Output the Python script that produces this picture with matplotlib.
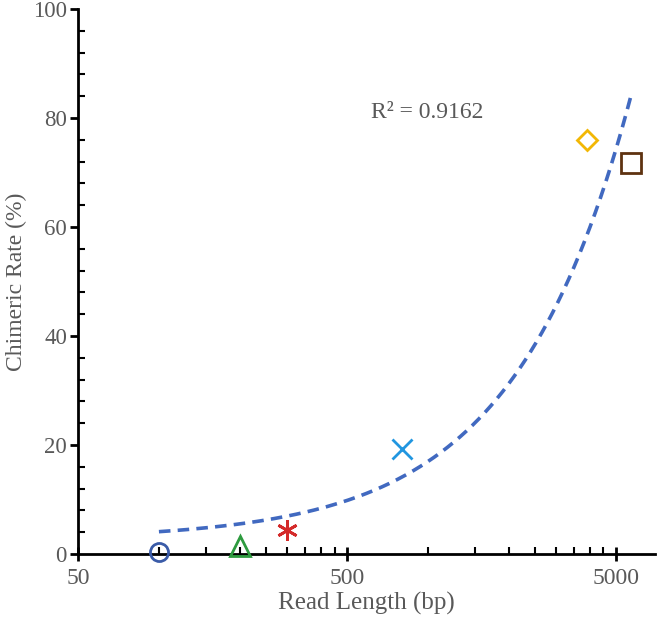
import numpy as np
import matplotlib
matplotlib.use('Agg')
import matplotlib.pyplot as plt
import matplotlib.ticker as mt

# read length (bp) and chimeric rate (%) per platform
read_len = [100, 200, 300, 800, 3900, 5700]
chim_rate = [0.4, 1.4, 4.4, 19.3, 76.0, 71.68]
markers = ['o', '^', (6, 2, 0), 'x', 'D', 's']
colors = ['#3A5BA8', '#2E9B3F', '#D42A2A', '#2196E0', '#F2B705', '#5E3210']
sizes = [13, 14, 15, 15, 10, 14]

xticks = [50, 500, 5000]
yticks = [0, 20, 40, 60, 80, 100]

plt.rc('font', family='Liberation Serif', size=16)
fig = plt.figure(figsize=(6.65, 6.22), dpi=100)
ax = fig.add_axes([78 / 665, 68 / 622, 577 / 665, 545 / 622])

# linear trendline (Excel style), drawn on the log axis
x = np.array(read_len, float)
y = np.array(chim_rate, float)
b, a = np.polyfit(x, y, 1)
yhat = a + b * x
r2 = 1 - np.sum((y - yhat) ** 2) / np.sum((y - y.mean()) ** 2)
xs = np.linspace(x.min(), x.max(), 400)
ax.plot(xs, a + b * xs, color='#4169C0', lw=2.6, dashes=(3.2, 2), zorder=2)

for xi, yi, m, c, s in zip(read_len, chim_rate, markers, colors, sizes):
    ax.plot(xi, yi, marker=m, ms=s, mfc='none', mec=c, mew=2, ls='none', zorder=3, clip_on=False)

ax.text(0.605, 0.81, 'R\u00b2 = %.4f' % r2, transform=ax.transAxes, ha='center', va='center',
        fontsize=17, color='#595959')

ax.set_xscale('log')
ax.set_xlim(50, 7000)
ax.set_ylim(0, 100)
ax.xaxis.set_major_locator(mt.FixedLocator(xticks))
ax.xaxis.set_major_formatter(mt.FixedFormatter([str(t) for t in xticks]))
minors = [50 * k * 10 ** n for n in range(3) for k in range(2, 10)]
ax.xaxis.set_minor_locator(mt.FixedLocator([m for m in minors if m < 7000]))
ax.xaxis.set_minor_formatter(mt.NullFormatter())
ax.set_yticks(yticks)
ax.yaxis.set_minor_locator(mt.MultipleLocator(4))

for s in ['top', 'right']:
    ax.spines[s].set_visible(False)
for s in ['left', 'bottom']:
    ax.spines[s].set_linewidth(2)

ax.tick_params(axis='x', which='major', direction='inout', length=10, width=2, labelsize=17,
               labelcolor='#595959', pad=5)
ax.tick_params(axis='x', which='minor', direction='in', length=5, width=1.5)
ax.tick_params(axis='y', which='major', direction='out', length=6, width=2, labelsize=16.5,
               labelcolor='#595959', pad=2)
ax.tick_params(axis='y', which='minor', direction='in', length=5, width=1.5)

ax.set_xlabel('Read Length (bp)', fontsize=18, color='#595959', labelpad=2)
ax.set_ylabel('Chimeric Rate (%)', fontsize=17, color='#595959')
ax.yaxis.set_label_coords(-0.088, 0.5)

fig.savefig('out.png', dpi=100)
